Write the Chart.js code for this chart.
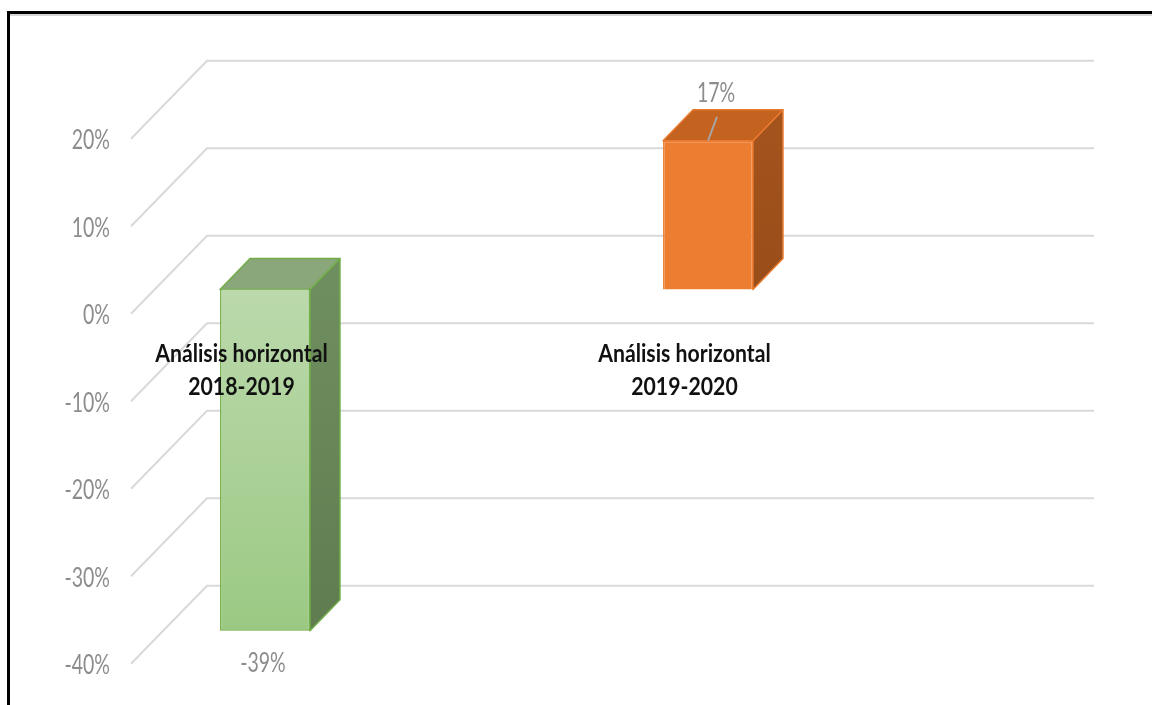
<!DOCTYPE html>
<html>
<head>
<meta charset="utf-8">
<title>Análisis horizontal</title>
<script src="https://cdn.jsdelivr.net/npm/chart.js@4.4.1/dist/chart.umd.min.js"></script>
<style>
  html, body { margin: 0; padding: 0; background: #fff; }
  body { width: 1152px; height: 705px; overflow: hidden; position: relative; }
  .frame {
    position: absolute; left: 7px; top: 11px; width: 1200px; height: 760px;
    border-top: 3px solid #000; border-left: 3px solid #000;
    box-shadow: inset 0 2px 0 #d6d6d6;
  }
  canvas { position: absolute; left: 0; top: 0; }
</style>
</head>
<body>
<div class="frame"></div>
<canvas id="variationChart" width="1152" height="705"></canvas>
<script>
// Data
const categories = [
  ['Análisis horizontal', '2018-2019'],
  ['Análisis horizontal', '2019-2020']
];
const variation = [-39, 17];
const tickValues = [20, 10, 0, -10, -20, -30, -40];

// Oblique projection for the 3D look
const FLOOR = { dx: 76, dy: -78 };      // front edge -> back wall
const BAR_POS = 0.31;                   // how far back the columns stand
const BAR_DEPTH = { dx: 30, dy: -31 };
const WALL_LEFT = 131;
const WALL_RIGHT = 1094;
const front = { dx: -FLOOR.dx * BAR_POS, dy: -FLOOR.dy * BAR_POS };

const GRID = '#d9d9d9';
const LABEL_GREY = '#8c8c8c';
const FACES = [
  { stroke: '#70ad47', top: '#8aa67b', side: ['#6f8e5f', '#5f7c50'] },
  { stroke: '#e8792e', top: '#c4621f', side: ['#a3531c', '#994d19'] }
];

function squeezed(ctx, text, x, y, sx) {
  ctx.save();
  ctx.translate(x, y);
  ctx.scale(sx, 1);
  ctx.fillText(text, 0, 0);
  ctx.restore();
}

const depthPlugin = {
  id: 'depth3d',
  beforeDatasetsDraw(chart) {
    const { ctx } = chart;
    const y = chart.scales.y;
    ctx.save();

    // floor diagonals + back wall lines
    ctx.strokeStyle = GRID;
    ctx.lineWidth = 2;
    tickValues.forEach(v => {
      const fy = y.getPixelForValue(v) + front.dy;
      ctx.beginPath();
      ctx.moveTo(WALL_LEFT, fy);
      ctx.lineTo(WALL_LEFT + FLOOR.dx, fy + FLOOR.dy);
      ctx.lineTo(WALL_RIGHT, fy + FLOOR.dy);
      ctx.stroke();
    });

    // value axis labels
    ctx.fillStyle = LABEL_GREY;
    ctx.font = '26px Lato';
    ctx.textAlign = 'right';
    ctx.textBaseline = 'alphabetic';
    tickValues.forEach(v => {
      squeezed(ctx, v + '%', 110, y.getPixelForValue(v) + front.dy + 10.5, 0.75);
    });

    // top and side faces of the columns
    const d = BAR_DEPTH;
    chart.getDatasetMeta(0).data.forEach((bar, i) => {
      const { x, y: vy, base, width } = bar.getProps(['x', 'y', 'base', 'width'], true);
      const l = x - width / 2, r = x + width / 2;
      const top = Math.min(vy, base), bot = Math.max(vy, base);
      const f = FACES[i];
      ctx.strokeStyle = f.stroke;
      ctx.lineWidth = 1.5;
      ctx.lineJoin = 'round';

      const side = ctx.createLinearGradient(0, top, 0, bot);
      side.addColorStop(0, f.side[0]);
      side.addColorStop(1, f.side[1]);
      ctx.fillStyle = side;
      ctx.beginPath();
      ctx.moveTo(r, top);
      ctx.lineTo(r + d.dx, top + d.dy);
      ctx.lineTo(r + d.dx, bot + d.dy);
      ctx.lineTo(r, bot);
      ctx.closePath();
      ctx.fill();
      ctx.stroke();

      ctx.fillStyle = f.top;
      ctx.beginPath();
      ctx.moveTo(l, top);
      ctx.lineTo(l + d.dx, top + d.dy);
      ctx.lineTo(r + d.dx, top + d.dy);
      ctx.lineTo(r, top);
      ctx.closePath();
      ctx.fill();
      ctx.stroke();
    });
    ctx.restore();
  },
  afterDatasetsDraw(chart) {
    const { ctx } = chart;
    const y = chart.scales.y;
    const zeroFront = y.getPixelForValue(0) + front.dy;
    const bars = chart.getDatasetMeta(0).data;
    ctx.save();

    // category labels sit on the front edge of the floor
    ctx.fillStyle = '#111';
    ctx.font = 'bold 25px Lato';
    ctx.textAlign = 'center';
    bars.forEach((bar, i) => {
      const cx = bar.x + front.dx;
      squeezed(ctx, categories[i][0], cx, zeroFront + 48, 0.85);
      squeezed(ctx, categories[i][1], cx, zeroFront + 81.5, 0.85);
    });

    // value labels
    ctx.fillStyle = LABEL_GREY;
    ctx.font = '26px Lato';
    bars.forEach((bar, i) => {
      const v = variation[i];
      const text = v + '%';
      if (v < 0) {
        squeezed(ctx, text, bar.x - 2, bar.y + 41, 0.75);
      } else {
        ctx.strokeStyle = '#a6a6a6';
        ctx.lineWidth = 2;
        ctx.beginPath();
        ctx.moveTo(bar.x, bar.y);
        ctx.lineTo(bar.x + 9, bar.y - 24);
        ctx.stroke();
        squeezed(ctx, text, bar.x + 8, bar.y + BAR_DEPTH.dy - 8, 0.75);
      }
    });
    ctx.restore();
  }
};

const ctx = document.getElementById('variationChart');
new Chart(ctx, {
  type: 'bar',
  data: {
    labels: categories,
    datasets: [{
      data: variation,
      backgroundColor(c) {
        if (c.dataIndex === 1) return '#ed7d31';
        const chart = c.chart;
        if (!chart.chartArea) return '#a9d18e';
        const y = chart.scales.y;
        const g = chart.ctx.createLinearGradient(0, y.getPixelForValue(0), 0, y.getPixelForValue(variation[0]));
        g.addColorStop(0, '#bbd9ac');
        g.addColorStop(1, '#9bc983');
        return g;
      },
      borderColor: ['#70ad47', '#ed7d31'],
      borderWidth: 1.5,
      barPercentage: 0.203,
      categoryPercentage: 1
    }]
  },
  options: {
    responsive: false,
    animation: false,
    events: [],
    layout: { padding: { left: 43.5, right: 222.5, top: 114.5, bottom: 65.5 } },
    scales: {
      x: { display: false },
      y: { display: false, min: -40, max: 20, ticks: { stepSize: 10 } }
    },
    plugins: {
      legend: { display: false },
      tooltip: { enabled: false }
    }
  },
  plugins: [depthPlugin]
});
</script>
</body>
</html>
